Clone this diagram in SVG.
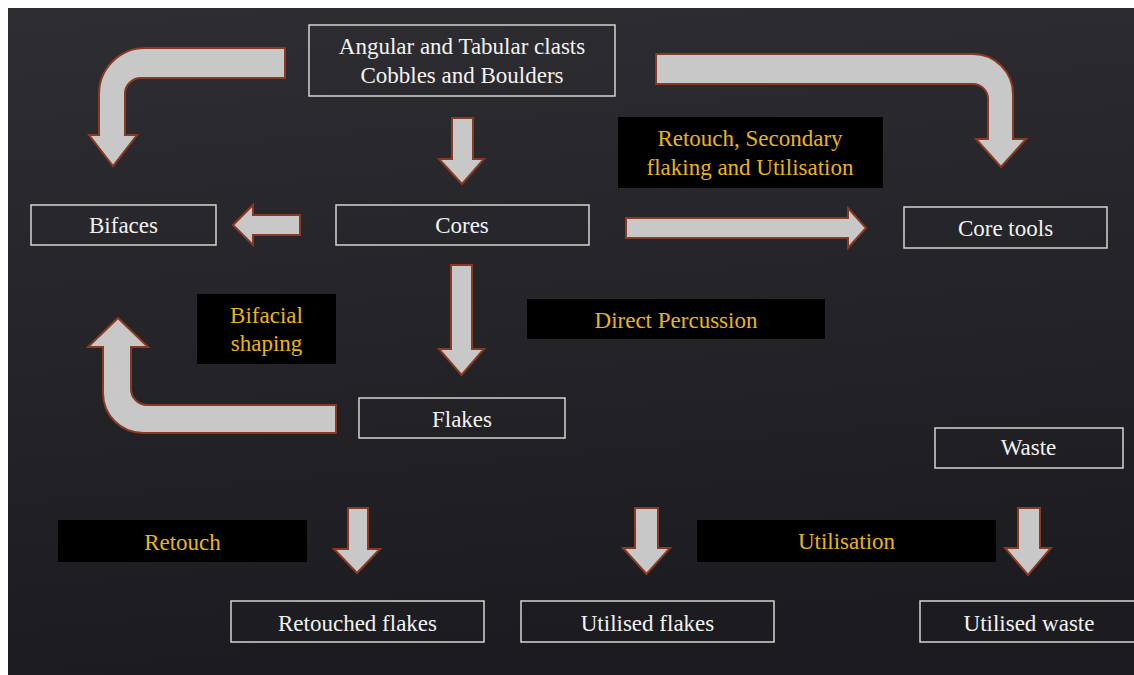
<svg xmlns="http://www.w3.org/2000/svg" width="1134" height="675" viewBox="0 0 1134 675">
<defs>
<linearGradient id="bg" x1="0" y1="0" x2="0.15" y2="1">
<stop offset="0" stop-color="#2e2e32"/>
<stop offset="1" stop-color="#1c1c20"/>
</linearGradient>
<style>
.node{fill:none;stroke:#d4d4d4;stroke-width:1.5}
.lab{fill:#000}
.t{font-family:"Liberation Serif","Times New Roman",serif;font-size:23px;fill:#f2f2f2;text-anchor:middle}
.y{font-family:"Liberation Serif","Times New Roman",serif;font-size:23px;fill:#e8b420;text-anchor:middle}
.arr{fill:#c8c8c8;stroke:#8a3a22;stroke-width:2;stroke-linejoin:miter}
</style>
</defs>
<rect x="0" y="0" width="1134" height="675" fill="#ffffff"/>
<rect x="8" y="8" width="1126" height="667" fill="url(#bg)"/>

<g id="connectors">
<path class="arr" d="M285,48 H145 A46,46 0 0 0 99,94 V135 H89 L113,166 L137,135 H125 V95 A16,16 0 0 1 141,78 H285 Z"/>
<path class="arr" d="M656,54 H973 A40,40 0 0 1 1013,94 V139 H1026 L1001,167 L976,139 H988 V99 A15,15 0 0 0 973,84 H656 Z"/>
<path class="arr" d="M452,118 H473 V159 H484 L462,184 L439,159 H452 Z"/>
<path class="arr" d="M300,215 V235 H253 V245 L233,225 L253,205 V215 Z"/>
<path class="arr" d="M626,218 H848 V208 L866,228 L848,248 V238 H626 Z"/>
<path class="arr" d="M451,265 H472 V349 H484 L461.5,375 L439,349 H451 Z"/>
<path class="arr" d="M336,405 H147 A16,16 0 0 1 131,389 V347 H148 L118,318 L88,347 H103 V393 A40,40 0 0 0 143,433 H336 Z"/>
<path class="arr" d="M348,508 H368 V549 H380 L357,573 L334,549 H348 Z"/>
<path class="arr" d="M635,508 H658 V548 H670 L646.5,574 L623,548 H635 Z"/>
<path class="arr" d="M1018,508 H1040 V548 H1051 L1028,575 L1005,548 H1018 Z"/>
</g>

<g id="n-clasts">
<rect class="node" x="309" y="25" width="306" height="71"/>
<text class="t" x="462" y="54">Angular and Tabular clasts</text>
<text class="t" x="462" y="83">Cobbles and Boulders</text>
</g>
<g id="n-bifaces">
<rect class="node" x="31" y="205" width="185" height="40"/>
<text class="t" x="123.5" y="233">Bifaces</text>
</g>
<g id="n-cores">
<rect class="node" x="336" y="205" width="253" height="40"/>
<text class="t" x="462" y="233">Cores</text>
</g>
<g id="n-coretools">
<rect class="node" x="904" y="207" width="203" height="41"/>
<text class="t" x="1005.5" y="236">Core tools</text>
</g>
<g id="n-flakes">
<rect class="node" x="359" y="398" width="206" height="40"/>
<text class="t" x="462" y="427">Flakes</text>
</g>
<g id="n-waste">
<rect class="node" x="935" y="428" width="188" height="40"/>
<text class="t" x="1028.5" y="455">Waste</text>
</g>
<g id="n-retouched">
<rect class="node" x="231" y="601" width="253" height="41"/>
<text class="t" x="357.5" y="631">Retouched flakes</text>
</g>
<g id="n-utilflakes">
<rect class="node" x="521" y="601" width="253" height="41"/>
<text class="t" x="647.5" y="631">Utilised flakes</text>
</g>
<g id="n-utilwaste">
<rect class="node" x="920" y="601" width="220" height="41"/>
<text class="t" x="1029" y="631">Utilised waste</text>
</g>

<g id="l-retouch-secondary">
<rect class="lab" x="618" y="117" width="265" height="71"/>
<text class="y" x="750" y="146">Retouch, Secondary</text>
<text class="y" x="750" y="175">flaking and Utilisation</text>
</g>
<g id="l-bifacial">
<rect class="lab" x="197" y="294" width="139" height="70"/>
<text class="y" x="266.5" y="323">Bifacial</text>
<text class="y" x="266.5" y="351">shaping</text>
</g>
<g id="l-direct">
<rect class="lab" x="527" y="299" width="298" height="40"/>
<text class="y" x="676" y="328">Direct Percussion</text>
</g>
<g id="l-retouch">
<rect class="lab" x="58" y="520" width="249" height="42"/>
<text class="y" x="182.5" y="550">Retouch</text>
</g>
<g id="l-utilisation">
<rect class="lab" x="697" y="520" width="299" height="42"/>
<text class="y" x="846.5" y="549">Utilisation</text>
</g>
</svg>
